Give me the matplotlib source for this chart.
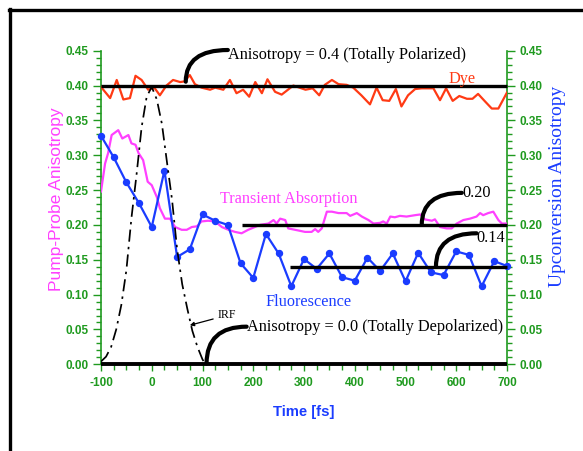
import matplotlib
matplotlib.use("Agg")
import matplotlib.pyplot as plt
from matplotlib.ticker import MultipleLocator, FormatStrFormatter
from matplotlib.lines import Line2D

plt.rcParams['axes.unicode_minus'] = False

# ---------------- data ----------------
dye_t = [-100, -82, -69, -56, -43, -32, -20, -7, 5, 16, 29, 42, 56, 65, 75, 85, 98,
         115, 125, 141, 154, 167, 180, 192, 204, 217, 228, 243, 256, 279, 303, 317,
         330, 341, 355, 368, 384, 397, 413, 430, 443, 455, 468, 481, 492, 505, 519,
         532, 555, 568, 580, 593, 606, 621, 632, 643, 657, 670, 683, 700]
dye_v = [0.398, 0.382, 0.408, 0.380, 0.382, 0.414, 0.408, 0.394, 0.397, 0.386, 0.400,
         0.408, 0.405, 0.406, 0.415, 0.402, 0.397, 0.394, 0.397, 0.394, 0.408, 0.389,
         0.394, 0.384, 0.405, 0.389, 0.409, 0.391, 0.387, 0.400, 0.394, 0.396, 0.386,
         0.401, 0.408, 0.402, 0.401, 0.397, 0.386, 0.373, 0.397, 0.379, 0.378, 0.395,
         0.370, 0.386, 0.395, 0.396, 0.396, 0.379, 0.396, 0.378, 0.385, 0.381, 0.381,
         0.388, 0.377, 0.367, 0.367, 0.390]

ta_t = [-100, -92, -86, -79, -66, -58, -46, -40, -32, -26, -17, -8, 0, 10, 16, 26, 36,
        46, 59, 69, 79, 89, 98, 111, 125, 138, 151, 164, 177, 190, 213, 230, 240, 246,
        253, 263, 269, 289, 302, 315, 322, 328, 335, 345, 355, 368, 384, 391, 404, 414,
        427, 437, 450, 456, 463, 470, 479, 489, 502, 519, 529, 538, 552, 558, 568, 581,
        591, 601, 614, 627, 640, 647, 653, 663, 673, 683, 690, 700]
ta_v = [0.248, 0.288, 0.303, 0.329, 0.336, 0.324, 0.329, 0.317, 0.315, 0.303, 0.293,
        0.262, 0.257, 0.240, 0.224, 0.209, 0.209, 0.197, 0.193, 0.193, 0.197, 0.198,
        0.205, 0.206, 0.205, 0.197, 0.193, 0.190, 0.188, 0.193, 0.200, 0.202, 0.207,
        0.202, 0.209, 0.207, 0.195, 0.192, 0.190, 0.190, 0.194, 0.190, 0.195, 0.219,
        0.219, 0.217, 0.217, 0.213, 0.217, 0.212, 0.207, 0.202, 0.203, 0.205, 0.202,
        0.212, 0.211, 0.213, 0.212, 0.214, 0.215, 0.208, 0.206, 0.208, 0.197, 0.195,
        0.195, 0.202, 0.207, 0.209, 0.212, 0.217, 0.214, 0.217, 0.219, 0.207, 0.202,
        0.202]

fl_t = [-100, -75, -50, -25, 0, 25, 50, 75, 100, 125, 150, 175, 200, 225, 250, 275,
        300, 325, 350, 375, 400, 425, 450, 475, 500, 525, 550, 575, 600, 625, 650,
        675, 700]
fl_v = [0.328, 0.297, 0.261, 0.231, 0.197, 0.278, 0.154, 0.165, 0.215, 0.206, 0.200,
        0.145, 0.124, 0.187, 0.159, 0.112, 0.151, 0.137, 0.159, 0.125, 0.120, 0.153,
        0.134, 0.159, 0.119, 0.160, 0.132, 0.128, 0.162, 0.157, 0.112, 0.148, 0.141]

irf_t = [-100, -90, -80, -70, -60, -50, -40, -30, -20, -10, 0, 10, 20, 30, 40, 50,
         60, 70, 80, 90, 100, 106]
irf_v = [0.004, 0.011, 0.025, 0.050, 0.085, 0.135, 0.210, 0.272, 0.340, 0.384, 0.398,
         0.380, 0.345, 0.290, 0.236, 0.165, 0.115, 0.080, 0.048, 0.025, 0.007, 0.000]

ref_levels = [0.40, 0.20, 0.14, 0.00]
ref_starts = [-100, 178, 272, -100]

x_ticks = [-100, 0, 100, 200, 300, 400, 500, 600, 700]
y_ticks = [0.00, 0.05, 0.10, 0.15, 0.20, 0.25, 0.30, 0.35, 0.40, 0.45]

# ---------------- style ----------------
GREEN = '#1f9a1f'
RED = '#ff3a14'
MAG = '#ff40ff'
BLUE = '#1a3cff'
SERIF = 'Liberation Serif'
SANS = 'Liberation Sans'

W, H = 583, 451
fig = plt.figure(figsize=(W / 100, H / 100), dpi=100)
ax = fig.add_axes([101 / W, 1 - 364.3 / H, 406 / W, 313.6 / H])
ax2 = ax.twinx()

for a in (ax, ax2):
    a.set_xlim(-100, 700)
    a.set_ylim(0, 0.45)
    a.set_yticks(y_ticks)
    a.yaxis.set_minor_locator(MultipleLocator(0.01))
    a.yaxis.set_major_formatter(FormatStrFormatter('%.2f'))
    a.tick_params(axis='y', which='major', length=6, width=1, colors=GREEN, pad=3,
                  labelsize=8.5)
    a.tick_params(axis='y', which='minor', length=3.5, width=1, colors=GREEN)
    for lab in a.get_yticklabels():
        lab.set_fontfamily(SANS)
        lab.set_fontweight('bold')
    for s in a.spines.values():
        s.set_color(GREEN)
        s.set_linewidth(1.2)
    a.spines['top'].set_visible(False)

ax.spines['right'].set_visible(False)
ax2.spines['left'].set_visible(False)
ax2.spines['bottom'].set_visible(False)

ax.set_xticks(x_ticks)
ax.xaxis.set_minor_locator(MultipleLocator(25))
ax.tick_params(axis='x', which='major', length=5, width=1, colors=GREEN, pad=4,
               labelsize=8.5)
ax.tick_params(axis='x', which='minor', length=4, width=1, colors=GREEN)
for lab in ax.get_xticklabels():
    lab.set_fontfamily(SANS)
    lab.set_fontweight('bold')

ax.set_zorder(ax2.get_zorder() + 1)
ax.patch.set_visible(False)

# ---------------- data lines ----------------
ax.plot(dye_t, dye_v, color=RED, lw=1.6, zorder=3)
ax.plot(ta_t, ta_v, color=MAG, lw=1.6, zorder=3)
ax.plot(fl_t, fl_v, color=BLUE, lw=1.6, marker='o', ms=4.3, zorder=4, clip_on=False)
ax.plot(irf_t, irf_v, color='black', lw=1.25, linestyle=(0, (7, 3, 1.4, 3)), zorder=4)

for lvl, st in zip(ref_levels, ref_starts):
    ax.plot([st, 700], [lvl, lvl], color='black', lw=2.4 if lvl > 0 else 2.8,
            zorder=6, clip_on=False, solid_capstyle='butt')

# ---------------- annotations ----------------
arc = dict(arrowstyle='-', color='black', lw=3, connectionstyle='angle3,angleA=0,angleB=90',
           shrinkA=0, shrinkB=0)
ax.annotate('', xy=(67, 0.4055), xytext=(150, 0.451), arrowprops=arc, annotation_clip=False)
ax.annotate('', xy=(108, 0.001), xytext=(187, 0.054), arrowprops=arc, annotation_clip=False)
ax.annotate('', xy=(532, 0.200), xytext=(611, 0.246), arrowprops=arc, annotation_clip=False)
ax.annotate('', xy=(560, 0.140), xytext=(640, 0.188), arrowprops=arc, annotation_clip=False)
ax.annotate('', xy=(75, 0.056), xytext=(121, 0.065),
            arrowprops=dict(arrowstyle='-|>', color='black', lw=0.9, mutation_scale=6,
                            shrinkA=0, shrinkB=0), annotation_clip=False)

tkw = dict(family=SERIF, fontsize=11.7, va='baseline', ha='left', clip_on=False, zorder=7)
ax.text(150.5, 0.438, 'Anisotropy = 0.4 (Totally Polarized)', color='black', **tkw)
ax.text(188, 0.048, 'Anisotropy = 0.0 (Totally Depolarized)', color='black', **tkw)
ax.text(612, 0.2405, '0.20', color='black', **tkw)
ax.text(640.5, 0.176, '0.14', color='black', **tkw)
ax.text(584, 0.403, 'Dye', color=RED, **tkw)
ax.text(134.5, 0.231, 'Transient Absorption', color=MAG, **tkw)
ax.text(225, 0.0836, 'Fluorescence', color=BLUE, **tkw)
ax.text(130, 0.066, 'IRF', color='black', family=SERIF, fontsize=8.6, va='baseline',
        ha='left')

# ---------------- axis titles ----------------
fig.text(57 / W, 1 - 199 / H, 'Pump-Probe Anisotropy', rotation=90, color=MAG,
         family=SANS, fontsize=12.5, ha='center', va='center')
fig.text(558 / W, 1 - 186 / H, 'Upconversion Anisotropy', rotation=90, color=BLUE,
         family=SERIF, fontsize=14, ha='center', va='center')
fig.text(304 / W, 1 - 412 / H, 'Time [fs]', color=BLUE, family=SANS, fontsize=10.7,
         fontweight='bold', ha='center', va='center')

# ---------------- outer frame ----------------
fig.add_artist(Line2D([9 / W, 1.0], [1 - 10 / H, 1 - 10 / H], color='black', lw=2.4,
                      transform=fig.transFigure))
fig.add_artist(Line2D([10 / W, 10 / W], [1 - 9 / H, 0.0], color='black', lw=2.4,
                      transform=fig.transFigure))

fig.savefig('out.png', dpi=100)
